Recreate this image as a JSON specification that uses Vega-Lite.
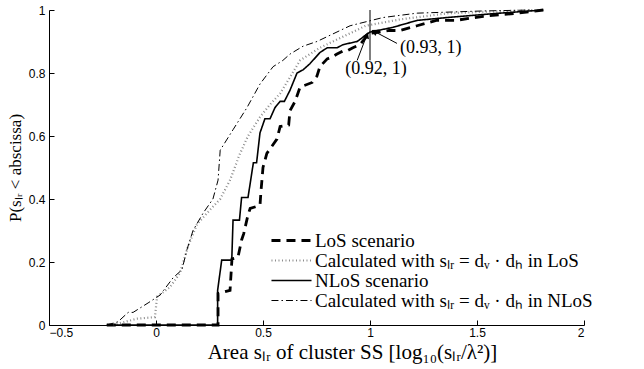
{
  "$schema": "https://vega.github.io/schema/vega-lite/v6.json",
  "autosize": {"type": "none"},
  "padding": {"left": 49, "top": 10, "right": 60, "bottom": 44},
  "width": 535,
  "height": 315,
  "background": "white",
  "config": {
    "view": {"stroke": null},
    "axis": {
      "grid": false,
      "domainColor": "black",
      "tickColor": "black",
      "labelColor": "black",
      "labelFont": "Liberation Sans",
      "labelFontSize": 12,
      "labelOverlap": false,
      "titleFont": "Liberation Serif",
      "titleFontWeight": "normal",
      "titleColor": "black"
    }
  },
  "datasets": {
    "curves": [
      {"s": "LoS scenario", "x": -0.23, "y": 0},
      {"s": "LoS scenario", "x": 0.29, "y": 0},
      {"s": "LoS scenario", "x": 0.29, "y": 0.10},
      {"s": "LoS scenario", "x": 0.346, "y": 0.11},
      {"s": "LoS scenario", "x": 0.355, "y": 0.21},
      {"s": "LoS scenario", "x": 0.383, "y": 0.215},
      {"s": "LoS scenario", "x": 0.40, "y": 0.27},
      {"s": "LoS scenario", "x": 0.41, "y": 0.29},
      {"s": "LoS scenario", "x": 0.43, "y": 0.35},
      {"s": "LoS scenario", "x": 0.44, "y": 0.37},
      {"s": "LoS scenario", "x": 0.486, "y": 0.38},
      {"s": "LoS scenario", "x": 0.49, "y": 0.42},
      {"s": "LoS scenario", "x": 0.50, "y": 0.5},
      {"s": "LoS scenario", "x": 0.518, "y": 0.545},
      {"s": "LoS scenario", "x": 0.565, "y": 0.59},
      {"s": "LoS scenario", "x": 0.58, "y": 0.63},
      {"s": "LoS scenario", "x": 0.62, "y": 0.635},
      {"s": "LoS scenario", "x": 0.626, "y": 0.68},
      {"s": "LoS scenario", "x": 0.65, "y": 0.71},
      {"s": "LoS scenario", "x": 0.673, "y": 0.755},
      {"s": "LoS scenario", "x": 0.73, "y": 0.77},
      {"s": "LoS scenario", "x": 0.752, "y": 0.79},
      {"s": "LoS scenario", "x": 0.766, "y": 0.82},
      {"s": "LoS scenario", "x": 0.80, "y": 0.845},
      {"s": "LoS scenario", "x": 0.82, "y": 0.85},
      {"s": "LoS scenario", "x": 0.846, "y": 0.86},
      {"s": "LoS scenario", "x": 0.874, "y": 0.87},
      {"s": "LoS scenario", "x": 0.893, "y": 0.87},
      {"s": "LoS scenario", "x": 0.92, "y": 0.88},
      {"s": "LoS scenario", "x": 0.953, "y": 0.89},
      {"s": "LoS scenario", "x": 0.995, "y": 0.925},
      {"s": "LoS scenario", "x": 1.09, "y": 0.935},
      {"s": "LoS scenario", "x": 1.14, "y": 0.935},
      {"s": "LoS scenario", "x": 1.22, "y": 0.95},
      {"s": "LoS scenario", "x": 1.31, "y": 0.967},
      {"s": "LoS scenario", "x": 1.4, "y": 0.967},
      {"s": "LoS scenario", "x": 1.53, "y": 0.98},
      {"s": "LoS scenario", "x": 1.69, "y": 0.99},
      {"s": "LoS scenario", "x": 1.81, "y": 1.0},

      {"s": "Calculated with sₗᵣ = dᵥ · dₕ in LoS", "x": -0.2, "y": 0},
      {"s": "Calculated with sₗᵣ = dᵥ · dₕ in LoS", "x": -0.09, "y": 0.02},
      {"s": "Calculated with sₗᵣ = dᵥ · dₕ in LoS", "x": -0.005, "y": 0.025},
      {"s": "Calculated with sₗᵣ = dᵥ · dₕ in LoS", "x": 0.005, "y": 0.09},
      {"s": "Calculated with sₗᵣ = dᵥ · dₕ in LoS", "x": 0.065, "y": 0.12},
      {"s": "Calculated with sₗᵣ = dᵥ · dₕ in LoS", "x": 0.112, "y": 0.165},
      {"s": "Calculated with sₗᵣ = dᵥ · dₕ in LoS", "x": 0.15, "y": 0.25},
      {"s": "Calculated with sₗᵣ = dᵥ · dₕ in LoS", "x": 0.192, "y": 0.32},
      {"s": "Calculated with sₗᵣ = dᵥ · dₕ in LoS", "x": 0.238, "y": 0.355},
      {"s": "Calculated with sₗᵣ = dᵥ · dₕ in LoS", "x": 0.30, "y": 0.40},
      {"s": "Calculated with sₗᵣ = dᵥ · dₕ in LoS", "x": 0.346, "y": 0.46},
      {"s": "Calculated with sₗᵣ = dᵥ · dₕ in LoS", "x": 0.39, "y": 0.54},
      {"s": "Calculated with sₗᵣ = dᵥ · dₕ in LoS", "x": 0.43, "y": 0.60},
      {"s": "Calculated with sₗᵣ = dᵥ · dₕ in LoS", "x": 0.486, "y": 0.66},
      {"s": "Calculated with sₗᵣ = dᵥ · dₕ in LoS", "x": 0.533, "y": 0.70},
      {"s": "Calculated with sₗᵣ = dᵥ · dₕ in LoS", "x": 0.58, "y": 0.735},
      {"s": "Calculated with sₗᵣ = dᵥ · dₕ in LoS", "x": 0.673, "y": 0.84},
      {"s": "Calculated with sₗᵣ = dᵥ · dₕ in LoS", "x": 0.766, "y": 0.88},
      {"s": "Calculated with sₗᵣ = dᵥ · dₕ in LoS", "x": 0.827, "y": 0.90},
      {"s": "Calculated with sₗᵣ = dᵥ · dₕ in LoS", "x": 0.98, "y": 0.95},
      {"s": "Calculated with sₗᵣ = dᵥ · dₕ in LoS", "x": 1.14, "y": 0.97},
      {"s": "Calculated with sₗᵣ = dᵥ · dₕ in LoS", "x": 1.37, "y": 0.99},
      {"s": "Calculated with sₗᵣ = dᵥ · dₕ in LoS", "x": 1.69, "y": 0.998},
      {"s": "Calculated with sₗᵣ = dᵥ · dₕ in LoS", "x": 1.78, "y": 1.0},

      {"s": "NLoS scenario", "x": -0.23, "y": 0},
      {"s": "NLoS scenario", "x": 0.288, "y": 0},
      {"s": "NLoS scenario", "x": 0.288, "y": 0.11},
      {"s": "NLoS scenario", "x": 0.307, "y": 0.206},
      {"s": "NLoS scenario", "x": 0.354, "y": 0.206},
      {"s": "NLoS scenario", "x": 0.36, "y": 0.333},
      {"s": "NLoS scenario", "x": 0.39, "y": 0.333},
      {"s": "NLoS scenario", "x": 0.40, "y": 0.405},
      {"s": "NLoS scenario", "x": 0.43, "y": 0.405},
      {"s": "NLoS scenario", "x": 0.455, "y": 0.515},
      {"s": "NLoS scenario", "x": 0.47, "y": 0.515},
      {"s": "NLoS scenario", "x": 0.486, "y": 0.61},
      {"s": "NLoS scenario", "x": 0.509, "y": 0.655},
      {"s": "NLoS scenario", "x": 0.533, "y": 0.655},
      {"s": "NLoS scenario", "x": 0.556, "y": 0.69},
      {"s": "NLoS scenario", "x": 0.58, "y": 0.71},
      {"s": "NLoS scenario", "x": 0.60, "y": 0.71},
      {"s": "NLoS scenario", "x": 0.626, "y": 0.745},
      {"s": "NLoS scenario", "x": 0.659, "y": 0.80},
      {"s": "NLoS scenario", "x": 0.687, "y": 0.81},
      {"s": "NLoS scenario", "x": 0.72, "y": 0.83},
      {"s": "NLoS scenario", "x": 0.766, "y": 0.865},
      {"s": "NLoS scenario", "x": 0.80, "y": 0.88},
      {"s": "NLoS scenario", "x": 0.846, "y": 0.88},
      {"s": "NLoS scenario", "x": 0.874, "y": 0.89},
      {"s": "NLoS scenario", "x": 0.94, "y": 0.90},
      {"s": "NLoS scenario", "x": 1.0, "y": 0.93},
      {"s": "NLoS scenario", "x": 1.107, "y": 0.945},
      {"s": "NLoS scenario", "x": 1.22, "y": 0.967},
      {"s": "NLoS scenario", "x": 1.374, "y": 0.977},
      {"s": "NLoS scenario", "x": 1.607, "y": 0.99},
      {"s": "NLoS scenario", "x": 1.81, "y": 1.0},

      {"s": "Calculated with sₗᵣ = dᵥ · dₕ in NLoS", "x": -0.23, "y": 0},
      {"s": "Calculated with sₗᵣ = dᵥ · dₕ in NLoS", "x": -0.178, "y": 0.01},
      {"s": "Calculated with sₗᵣ = dᵥ · dₕ in NLoS", "x": -0.13, "y": 0.04},
      {"s": "Calculated with sₗᵣ = dᵥ · dₕ in NLoS", "x": -0.107, "y": 0.04},
      {"s": "Calculated with sₗᵣ = dᵥ · dₕ in NLoS", "x": -0.037, "y": 0.07},
      {"s": "Calculated with sₗᵣ = dᵥ · dₕ in NLoS", "x": 0.019, "y": 0.095},
      {"s": "Calculated with sₗᵣ = dᵥ · dₕ in NLoS", "x": 0.08, "y": 0.15},
      {"s": "Calculated with sₗᵣ = dᵥ · dₕ in NLoS", "x": 0.121, "y": 0.175},
      {"s": "Calculated with sₗᵣ = dᵥ · dₕ in NLoS", "x": 0.145, "y": 0.24},
      {"s": "Calculated with sₗᵣ = dᵥ · dₕ in NLoS", "x": 0.173, "y": 0.30},
      {"s": "Calculated with sₗᵣ = dᵥ · dₕ in NLoS", "x": 0.22, "y": 0.355},
      {"s": "Calculated with sₗᵣ = dᵥ · dₕ in NLoS", "x": 0.266, "y": 0.40},
      {"s": "Calculated with sₗᵣ = dᵥ · dₕ in NLoS", "x": 0.29, "y": 0.46},
      {"s": "Calculated with sₗᵣ = dᵥ · dₕ in NLoS", "x": 0.30, "y": 0.555},
      {"s": "Calculated with sₗᵣ = dᵥ · dₕ in NLoS", "x": 0.36, "y": 0.62},
      {"s": "Calculated with sₗᵣ = dᵥ · dₕ in NLoS", "x": 0.425, "y": 0.69},
      {"s": "Calculated with sₗᵣ = dᵥ · dₕ in NLoS", "x": 0.486, "y": 0.765},
      {"s": "Calculated with sₗᵣ = dᵥ · dₕ in NLoS", "x": 0.547, "y": 0.82},
      {"s": "Calculated with sₗᵣ = dᵥ · dₕ in NLoS", "x": 0.593, "y": 0.84},
      {"s": "Calculated with sₗᵣ = dᵥ · dₕ in NLoS", "x": 0.626, "y": 0.86},
      {"s": "Calculated with sₗᵣ = dᵥ · dₕ in NLoS", "x": 0.687, "y": 0.885},
      {"s": "Calculated with sₗᵣ = dᵥ · dₕ in NLoS", "x": 0.752, "y": 0.90},
      {"s": "Calculated with sₗᵣ = dᵥ · dₕ in NLoS", "x": 0.907, "y": 0.95},
      {"s": "Calculated with sₗᵣ = dᵥ · dₕ in NLoS", "x": 1.06, "y": 0.976},
      {"s": "Calculated with sₗᵣ = dᵥ · dₕ in NLoS", "x": 1.22, "y": 0.99},
      {"s": "Calculated with sₗᵣ = dᵥ · dₕ in NLoS", "x": 1.53, "y": 0.997},
      {"s": "Calculated with sₗᵣ = dᵥ · dₕ in NLoS", "x": 1.76, "y": 1.0}
    ]
  },
  "layer": [
    {
      "data": {"name": "curves"},
      "mark": {"type": "line", "interpolate": "linear"},
      "encoding": {
        "x": {
          "field": "x", "type": "quantitative",
          "scale": {"domain": [-0.5, 2], "nice": false, "zero": false},
          "axis": {
            "values": [-0.5, 0, 0.5, 1, 1.5, 2],
            "format": "~g",
            "tickSize": -5,
            "labelPadding": 7,
            "title": "Area sₗᵣ of cluster SS [log₁₀(sₗᵣ/λ²)]",
            "titleFontSize": 21,
            "titleX": 303,
            "titlePadding": 3
          }
        },
        "y": {
          "field": "y", "type": "quantitative",
          "scale": {"domain": [0, 1], "nice": false},
          "axis": {
            "values": [0, 0.1, 0.2, 0.3, 0.4, 0.5, 0.6, 0.7, 0.8, 0.9, 1],
            "format": "~g",
            "tickSize": -5,
            "labelPadding": 9,
            "title": "P(sₗᵣ < abscissa)",
            "titleFontSize": 17,
            "titlePadding": 4
          }
        },
        "color": {
          "field": "s", "type": "nominal",
          "scale": {
            "domain": ["LoS scenario", "Calculated with sₗᵣ = dᵥ · dₕ in LoS", "NLoS scenario", "Calculated with sₗᵣ = dᵥ · dₕ in NLoS"],
            "range": ["#000000", "#8c8c8c", "#000000", "#000000"]
          },
          "legend": {
            "orient": "none",
            "legendX": 233,
            "legendY": 221,
            "title": null,
            "symbolType": "M-2.67,0H2.67",
            "symbolSize": 225,
            "labelFont": "Liberation Serif",
            "labelFontSize": 19,
            "labelColor": "black",
            "labelLimit": 500,
            "labelOffset": 14,
            "rowPadding": 0,
            "padding": 0
          }
        },
        "strokeDash": {
          "field": "s", "type": "nominal",
          "scale": {
            "domain": ["LoS scenario", "Calculated with sₗᵣ = dᵥ · dₕ in LoS", "NLoS scenario", "Calculated with sₗᵣ = dᵥ · dₕ in NLoS"],
            "range": [[9, 6], [1, 2.5], [1, 0], [7, 3, 1.5, 3]]
          }
        },
        "strokeWidth": {
          "field": "s", "type": "nominal",
          "scale": {
            "domain": ["LoS scenario", "Calculated with sₗᵣ = dᵥ · dₕ in LoS", "NLoS scenario", "Calculated with sₗᵣ = dᵥ · dₕ in NLoS"],
            "range": [2.8, 1, 1.2, 0.9]
          }
        }
      }
    },
    {
      "data": {"values": [{"x": 1, "y": 0.84, "y2": 1.0}]},
      "mark": {"type": "rule", "color": "black", "strokeWidth": 1},
      "encoding": {
        "x": {"field": "x", "type": "quantitative"},
        "y": {"field": "y", "type": "quantitative"},
        "y2": {"field": "y2"}
      }
    },
    {
      "data": {"values": [
        {"x": 1.126, "y": 0.894, "x2": 1.02, "y2": 0.932},
        {"x": 0.94, "y": 0.84, "x2": 0.985, "y2": 0.92}
      ]},
      "mark": {"type": "rule", "color": "black", "strokeWidth": 1},
      "encoding": {
        "x": {"field": "x", "type": "quantitative"},
        "y": {"field": "y", "type": "quantitative"},
        "x2": {"field": "x2"},
        "y2": {"field": "y2"}
      }
    },
    {
      "data": {"values": [{"x": 1.02, "y": 0.932}]},
      "mark": {"type": "point", "shape": "triangle-up", "filled": true, "color": "black", "size": 50, "angle": 298, "opacity": 1},
      "encoding": {
        "x": {"field": "x", "type": "quantitative"},
        "y": {"field": "y", "type": "quantitative"}
      }
    },
    {
      "data": {"values": [{"x": 0.985, "y": 0.92}]},
      "mark": {"type": "point", "shape": "triangle-up", "filled": true, "color": "black", "size": 50, "angle": 21, "opacity": 1},
      "encoding": {
        "x": {"field": "x", "type": "quantitative"},
        "y": {"field": "y", "type": "quantitative"}
      }
    },
    {
      "data": {"values": [{"x": 1.14, "y": 0.878, "label": "(0.93, 1)"}]},
      "mark": {"type": "text", "align": "left", "baseline": "middle", "font": "Liberation Serif", "fontSize": 18, "color": "black"},
      "encoding": {
        "x": {"field": "x", "type": "quantitative"},
        "y": {"field": "y", "type": "quantitative"},
        "text": {"field": "label"}
      }
    },
    {
      "data": {"values": [{"x": 1.028, "y": 0.812, "label": "(0.92, 1)"}]},
      "mark": {"type": "text", "align": "center", "baseline": "middle", "font": "Liberation Serif", "fontSize": 18, "color": "black"},
      "encoding": {
        "x": {"field": "x", "type": "quantitative"},
        "y": {"field": "y", "type": "quantitative"},
        "text": {"field": "label"}
      }
    }
  ]
}
